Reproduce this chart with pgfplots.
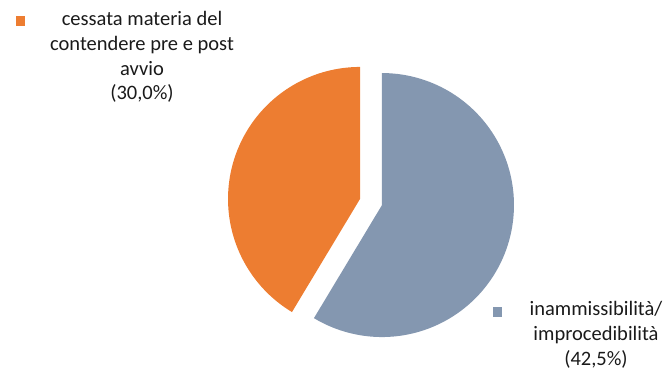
\documentclass[border=0pt]{standalone}
\usepackage{pgfplots}
\usepackage{pgfplotstable}
\usepackage{fontspec}
\setmainfont{Carlito}
\pgfplotsset{compat=1.18}
\definecolor{cOrange}{HTML}{ED7D31}
\definecolor{cBlue}{HTML}{8497B0}
\definecolor{cText}{HTML}{1A1A1A}
\pgfplotstableread{
label value
inammissibilita 42.5
cessata 30.0
}\piedata
\begin{document}
\begin{tikzpicture}
\pgfplotstablegetelem{0}{value}\of\piedata \let\va\pgfplotsretval
\pgfplotstablegetelem{1}{value}\of\piedata \let\vb\pgfplotsretval
\pgfmathsetmacro\tot{\va+\vb}
\pgfmathsetmacro\aEnd{90-360*\va/\tot}
\pgfmathsetmacro\aMidA{(90+\aEnd)/2}
\pgfmathsetmacro\aMidB{\aEnd-180*\vb/\tot}
\def\R{132}
\def\ex{11.4}
\pgfmathsetmacro\cxA{371+\ex*cos(\aMidA)}
\pgfmathsetmacro\cyA{167+\ex*sin(\aMidA)}
\pgfmathsetmacro\cxB{371+\ex*cos(\aMidB)}
\pgfmathsetmacro\cyB{167+\ex*sin(\aMidB)}
\pgfmathsetmacro\aEndB{\aEnd-360*\vb/\tot}
\begin{axis}[hide axis, scale only axis, width=669pt, height=369pt,
  xmin=0, xmax=669, ymin=0, ymax=369, clip=false]
\addplot[fill=cBlue, draw=none, domain=90:\aEnd, samples=120, variable=\t]
  ({\cxA+\R*cos(\t)},{\cyA+\R*sin(\t)}) -- (axis cs:\cxA,\cyA) -- cycle;
\addplot[fill=cOrange, draw=none, domain=\aEnd:\aEndB, samples=120, variable=\t]
  ({\cxB+\R*cos(\t)},{\cyB+\R*sin(\t)}) -- (axis cs:\cxB,\cyB) -- cycle;
\addplot[only marks, mark=square*, mark size=4.3pt, color=cOrange] coordinates {(20,348)};
\addplot[only marks, mark=square*, mark size=4.3pt, color=cBlue] coordinates {(497,57)};
\node[align=center, font=\fontsize{20.5}{24.7}\selectfont, text=cText] at (axis cs:142,312)
  {cessata materia del\\contendere pre e post\\avvio\\(30,0\%)};
\node[align=center, font=\fontsize{20.5}{24.7}\selectfont, text=cText] at (axis cs:596,34)
  {inammissibilità/\\improcedibilità\\(42,5\%)};
\end{axis}
\path (current axis.south west) rectangle (current axis.north east);
\end{tikzpicture}
\end{document}
